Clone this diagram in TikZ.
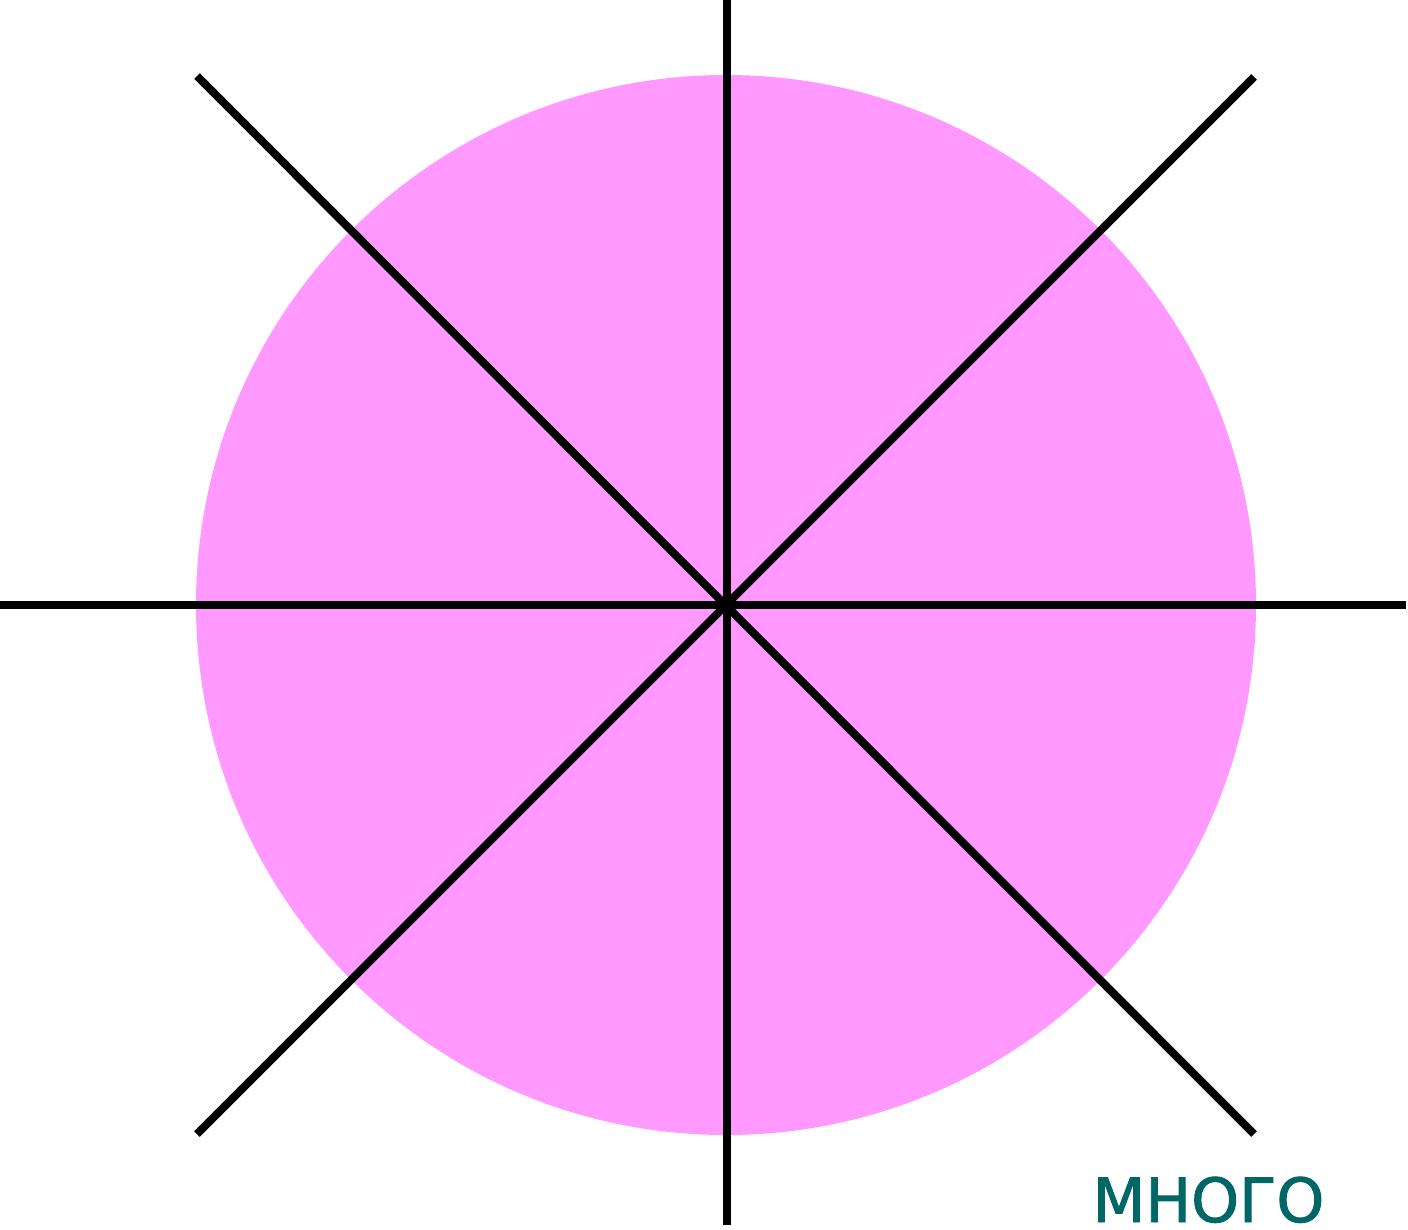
\documentclass[tikz,border=0pt]{standalone}
\usepackage{fontspec}
\newfontfamily\dvs[BoldFont={DejaVu Sans},BoldFeatures={FakeBold=1.5}]{DejaVu Sans}
\definecolor{pinkfill}{HTML}{FF99FF}
\definecolor{tealtext}{HTML}{006666}
\begin{document}
\begin{tikzpicture}[x=1pt,y=-1pt,
  ray/.style={line width=8pt,black},
  lbl/.style={inner sep=0pt,text depth=0pt,text=tealtext,font=\dvs\bfseries\fontsize{61}{72}\selectfont}]
\useasboundingbox (0,0) rectangle (1408,1229);
\fill[pinkfill] (726,605) circle[radius=530];
\coordinate (c) at (726.5,605);
\coordinate (n) at (726.5,0);
\coordinate (s) at (726.5,1225);
\coordinate (w) at (0,605);
\coordinate (e) at (1406,605);
\coordinate (nw) at (197,76);
\coordinate (se) at (1254,1134);
\coordinate (ne) at (1254,77);
\coordinate (sw) at (197,1134);
\draw[ray] (n) -- (s);
\draw[ray] (w) -- (e);
\draw[ray] (nw) -- (se);
\draw[ray] (ne) -- (sw);
\node[lbl,anchor=base] (t) at (1208.5,1222) {МНОГО};
\end{tikzpicture}
\end{document}
